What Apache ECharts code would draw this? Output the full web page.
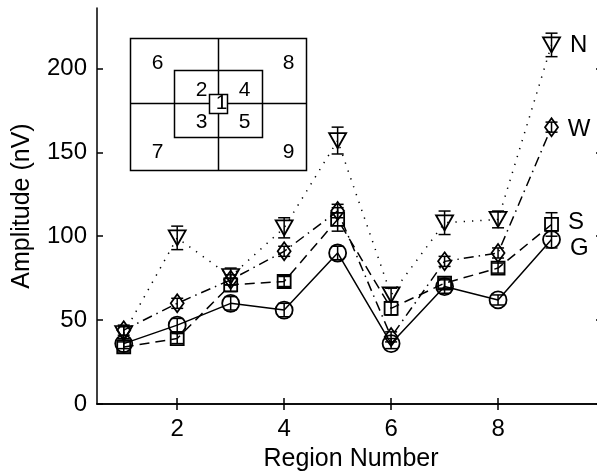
<!DOCTYPE html>
<html>
<head>
<meta charset="utf-8">
<script src="https://cdn.jsdelivr.net/npm/echarts@6/dist/echarts.min.js"></script>
<style>
  html, body { margin: 0; padding: 0; background: #fff; }
  #chart { width: 597px; height: 474px; }
</style>
</head>
<body>
<div id="chart"></div>
<script>
// region numbers on the x axis
const regions = [1, 2, 3, 4, 5, 6, 7, 8, 9]

// amplitudes (nV)
const ampN = [42, 99, 76, 105, 157, 65, 108, 110, 214]
const ampW = [44, 60, 74, 91, 115, 40, 85, 90, 165]
const ampS = [34, 39, 71, 73, 110, 57, 72, 81, 107]
const ampG = [36, 47, 60, 56, 90, 36, 70, 62, 98]

// half-length of the error bars
const errN = [4, 7, 5, 6, 8, 4, 7, 5, 7]
const errW = [3, 3, 3, 3, 4, 3, 3, 3, 3]
const errS = [3, 3, 4, 3, 7, 4, 3, 3, 7]
const errG = [3, 4, 4, 4, 4, 3, 4, 3, 5]

const xTicks = [2, 4, 6, 8]
const yTicks = [0, 50, 100, 150, 200]

const FONT = 'Liberation Sans'
const chart = echarts.init(document.getElementById('chart'))

function lineData(vals, name, labelDy) {
  return vals.map((v, i) => {
    const item = { value: [regions[i], v] }
    if (i === vals.length - 1) {
      item.label = {
        show: true, formatter: name, position: 'right', distance: 9,
        offset: [0, labelDy], color: '#000', fontFamily: FONT, fontSize: 24
      }
    }
    return item
  })
}

function errData(vals, errs) {
  return vals.map((v, i) => [regions[i], v - errs[i], v + errs[i]])
}

function renderErr(params, api) {
  const lo = api.coord([api.value(0), api.value(1)])
  const hi = api.coord([api.value(0), api.value(2)])
  const w = 6
  const style = { stroke: '#000', lineWidth: 1.5 }
  return {
    type: 'group',
    children: [
      { type: 'line', shape: { x1: lo[0], y1: lo[1], x2: hi[0], y2: hi[1] }, style },
      { type: 'line', shape: { x1: lo[0] - w, y1: lo[1], x2: lo[0] + w, y2: lo[1] }, style },
      { type: 'line', shape: { x1: hi[0] - w, y1: hi[1], x2: hi[0] + w, y2: hi[1] }, style }
    ]
  }
}

function lineSeries(name, vals, symbol, size, dash, labelDy) {
  return {
    name: name,
    type: 'line',
    data: lineData(vals, name, labelDy),
    symbol: symbol,
    symbolSize: size,
    showAllSymbol: true,
    itemStyle: { color: 'rgba(0,0,0,0)', borderColor: '#000', borderWidth: 1.8 },
    lineStyle: { color: '#000', width: 1.5, type: dash },
    emphasis: { disabled: true },
    z: 3
  }
}

function errSeries(vals, errs) {
  return {
    type: 'custom',
    data: errData(vals, errs),
    renderItem: renderErr,
    silent: true,
    z: 4
  }
}

const axisLine = { show: true, lineStyle: { color: '#000', width: 1.5 } }
const tickStyle = { color: '#000', width: 1.5 }

// inset diagram of the nine regions (pixel layout)
const inset = {
  type: 'group',
  left: 128, top: 36,
  children: [
    { type: 'rect', shape: { x: 0, y: 0, width: 176, height: 132 }, style: { fill: '#fff', stroke: '#000', lineWidth: 1.5 } },
    { type: 'line', shape: { x1: 88, y1: 0, x2: 88, y2: 132 }, style: { stroke: '#000', lineWidth: 1.5 } },
    { type: 'line', shape: { x1: 0, y1: 65, x2: 176, y2: 65 }, style: { stroke: '#000', lineWidth: 1.5 } },
    { type: 'rect', shape: { x: 44, y: 32, width: 88, height: 67 }, style: { fill: 'none', stroke: '#000', lineWidth: 1.5 } },
    { type: 'rect', shape: { x: 79, y: 56, width: 18, height: 19 }, style: { fill: '#fff', stroke: '#000', lineWidth: 1.5 } }
  ].concat([
    ['6', 27, 25], ['8', 158, 25], ['2', 71, 52], ['4', 114, 52], ['1', 91, 65],
    ['3', 71, 84], ['5', 114, 84], ['7', 27, 114], ['9', 158, 114]
  ].map(t => ({
    type: 'text', x: t[1], y: t[2],
    style: { text: t[0], fill: '#000', font: '21px "' + FONT + '"', align: 'center', verticalAlign: 'middle' }
  })))
}

chart.setOption({
  animation: false,
  backgroundColor: '#fff',
  grid: { left: 97, top: 8, right: -8, bottom: 70, outerBoundsMode: 'none', containLabel: false },
  xAxis: [
    {
      type: 'value', min: 0.5, max: 10, position: 'bottom',
      name: 'Region Number', nameLocation: 'middle', nameGap: 43,
      nameTextStyle: { color: '#000', fontFamily: FONT, fontSize: 25 },
      axisLine: axisLine,
      axisTick: { inside: true, length: 6, lineStyle: tickStyle, customValues: xTicks },
      axisLabel: { color: '#000', fontFamily: FONT, fontSize: 24, margin: 13, customValues: xTicks },
      splitLine: { show: false }
    },
    {
      type: 'value', min: 0.5, max: 10, position: 'top',
      axisLine: axisLine,
      axisTick: { inside: true, length: 6, lineStyle: tickStyle, customValues: xTicks },
      axisLabel: { show: false },
      splitLine: { show: false }
    }
  ],
  yAxis: [
    {
      type: 'value', min: 0, max: 236, position: 'left',
      name: 'Amplitude (nV)', nameLocation: 'middle', nameGap: 62,
      nameTextStyle: { color: '#000', fontFamily: FONT, fontSize: 25 },
      axisLine: axisLine,
      axisTick: { inside: true, length: 6, lineStyle: tickStyle, customValues: yTicks },
      axisLabel: { color: '#000', fontFamily: FONT, fontSize: 24, margin: 10, customValues: yTicks },
      splitLine: { show: false }
    },
    {
      type: 'value', min: 0, max: 236, position: 'right',
      axisLine: axisLine,
      axisTick: { inside: true, length: 9, lineStyle: tickStyle, customValues: yTicks },
      axisLabel: { show: false },
      splitLine: { show: false }
    }
  ],
  series: [
    lineSeries('N', ampN, 'path://M0,0 L10,0 L5,9 Z', [17, 15], [1.3, 7], 0),
    lineSeries('W', ampW, 'diamond', [13, 18], [10, 5, 1.5, 5], 2),
    lineSeries('S', ampS, 'rect', [13, 13], [10, 6], -2),
    lineSeries('G', ampG, 'circle', [17, 17], 'solid', 9),
    errSeries(ampN, errN),
    errSeries(ampW, errW),
    errSeries(ampS, errS),
    errSeries(ampG, errG)
  ],
  graphic: [inset]
})
</script>
</body>
</html>
